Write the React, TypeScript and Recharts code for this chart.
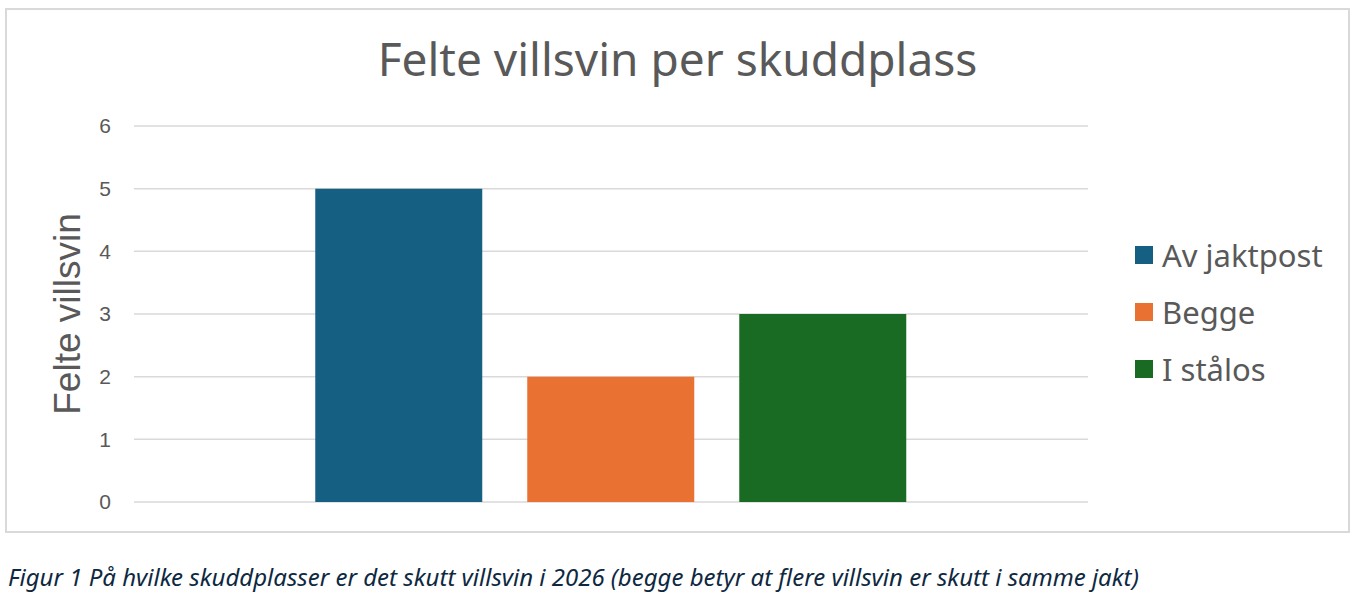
import React from "react";
import { BarChart, Bar, XAxis, YAxis, CartesianGrid, Legend } from "recharts";

const TITLE = "Felte villsvin per skuddplass";
const Y_LABEL = "Felte villsvin";
const CAPTION =
  "Figur 1 På hvilke skuddplasser er det skutt villsvin i 2026 (begge betyr at flere villsvin er skutt i samme jakt)";

const SERIES_KEYS = ["av", "begge", "stalos"];
const SERIES_NAMES = ["Av jaktpost", "Begge", "I stålos"];
const SERIES_VALUES = [5, 2, 3];
const SERIES_COLORS = ["#156082", "#E97132", "#196B24"];
const Y_TICKS = [0, 1, 2, 3, 4, 5, 6];

const TEXT = "#595959";
const GRID = "#D9D9D9";
const SANS = "'Noto Sans', 'Open Sans', sans-serif";
const ARIAL = "'Liberation Sans', Arial, sans-serif";

// one category, three series side by side
const row: Record<string, number | string> = { cat: "" };
SERIES_KEYS.forEach((k, i) => (row[k] = SERIES_VALUES[i]));
const data = [row];

function LegendBox() {
  return (
    <div style={{ fontFamily: SANS, fontSize: 31, color: TEXT }}>
      {SERIES_NAMES.map((n, i) => (
        <div key={n} style={{ display: "flex", alignItems: "center", height: 57 }}>
          <span
            style={{
              display: "inline-block",
              width: 18,
              height: 18,
              background: SERIES_COLORS[i],
              marginRight: 9,
            }}
          />
          <span>{n}</span>
        </div>
      ))}
    </div>
  );
}

function YTitle(props: any) {
  const vb = props.viewBox;
  const cx = 62;
  const cy = vb.y + vb.height / 2;
  return (
    <text
      x={cx}
      y={cy}
      transform={`rotate(-90 ${cx} ${cy})`}
      textAnchor="middle"
      dominantBaseline="central"
      fill={TEXT}
      fontFamily={ARIAL}
      fontSize={37}
    >
      {Y_LABEL}
    </text>
  );
}

export default function App() {
  return (
    <div style={{ position: "absolute", left: 0, top: 0, width: 1363, height: 593, background: "#fff" }}>
      <div
        style={{
          position: "absolute",
          left: 5,
          top: 8,
          width: 1345,
          height: 525,
          boxSizing: "border-box",
          border: `2px solid ${GRID}`,
        }}
      />
      <div
        style={{
          position: "absolute",
          left: 5,
          top: 28,
          width: 1345,
          textAlign: "center",
          fontFamily: SANS,
          fontSize: 46,
          color: TEXT,
          lineHeight: "60px",
        }}
      >
        {TITLE}
      </div>
      <div style={{ position: "absolute", left: 5, top: 8 }}>
        <BarChart
          width={1345}
          height={525}
          data={data}
          margin={{ top: 118, right: 47, bottom: 31, left: 1 }}
          barCategoryGap="19%"
          barGap={45}
        >
          <CartesianGrid horizontal vertical={false} stroke={GRID} strokeWidth={1.5} />
          <XAxis dataKey="cat" hide />
          <YAxis
            width={128}
            domain={[0, 6]}
            ticks={Y_TICKS}
            interval={0}
            axisLine={false}
            tickLine={false}
            tickSize={0}
            tickMargin={23}
            tick={{ fill: TEXT, fontSize: 21, fontFamily: ARIAL }}
            label={{ content: YTitle }}
          />
          <Legend
            layout="horizontal"
            verticalAlign="middle"
            align="right"
            content={() => <LegendBox />}
            wrapperStyle={{ left: 1130, top: 218, width: 215, right: "auto", bottom: "auto" }}
          />
          {SERIES_KEYS.map((k, i) => (
            <Bar key={k} dataKey={k} name={SERIES_NAMES[i]} fill={SERIES_COLORS[i]} isAnimationActive={false} />
          ))}
        </BarChart>
      </div>
      <div
        style={{
          position: "absolute",
          left: 8,
          top: 560,
          fontFamily: SANS,
          fontStyle: "italic",
          fontSize: 24,
          color: "#0E2841",
          whiteSpace: "nowrap",
        }}
      >
        {CAPTION}
      </div>
    </div>
  );
}
